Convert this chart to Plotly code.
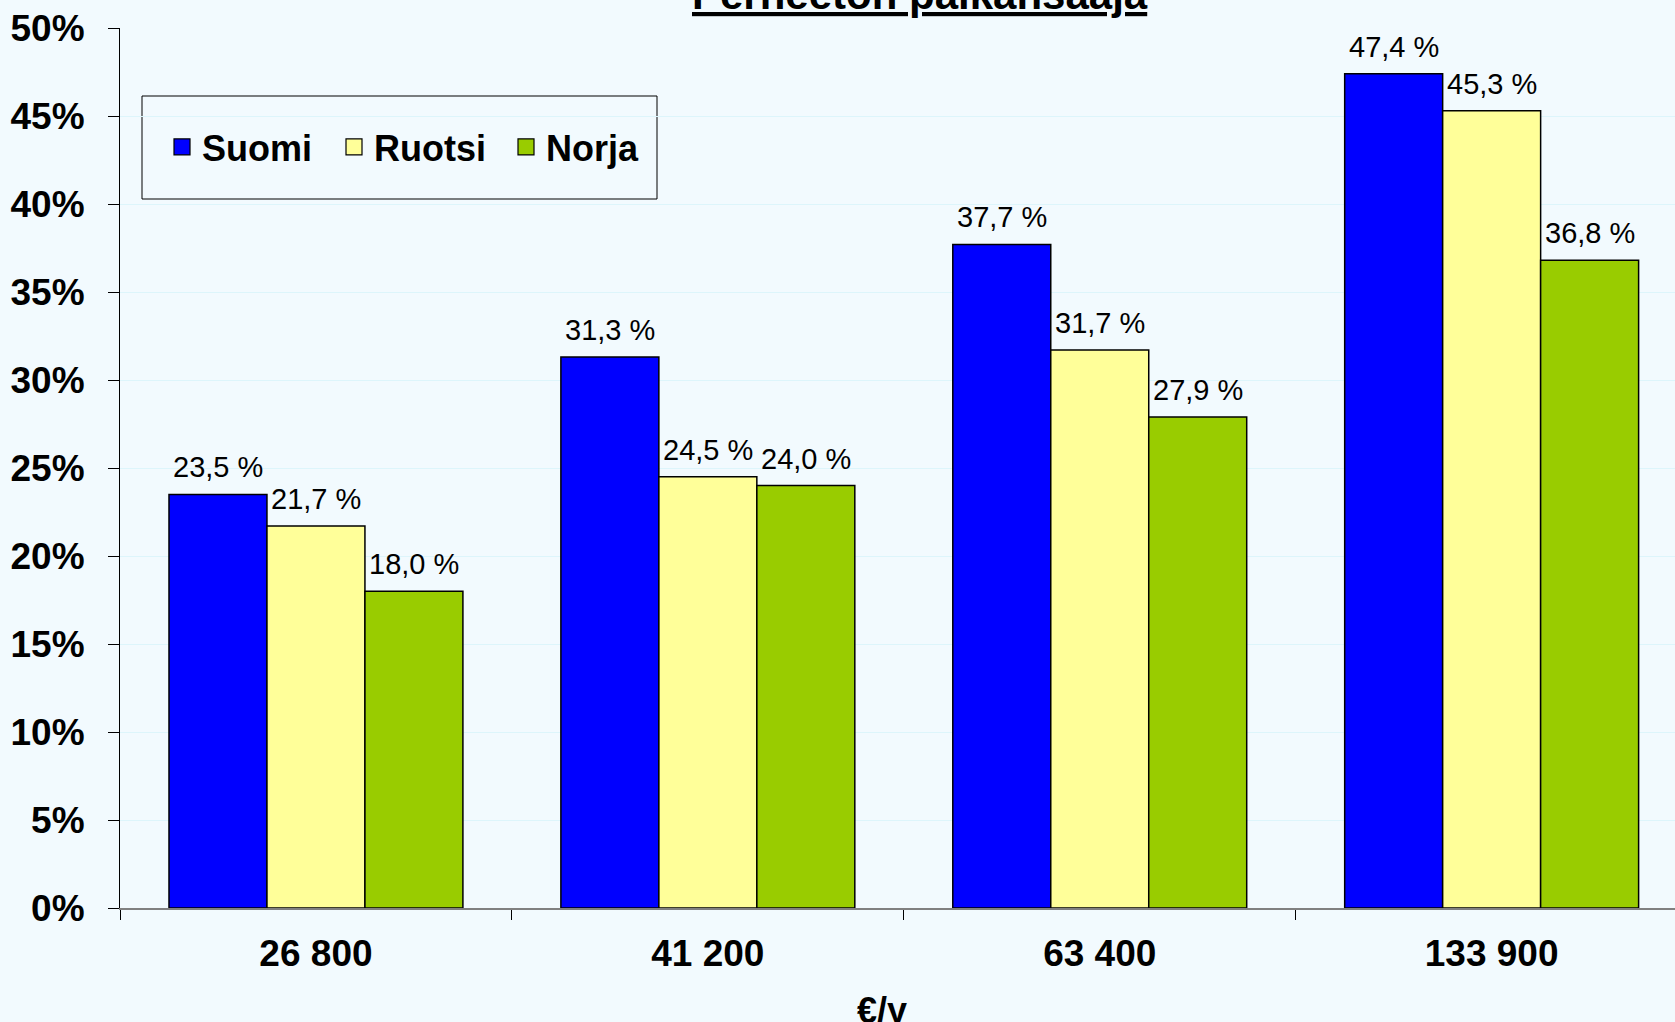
import plotly.graph_objects as go

categories = ["26 800", "41 200", "63 400", "133 900"]
series_names = ["Suomi", "Ruotsi", "Norja"]
suomi = [23.5, 31.3, 37.7, 47.4]
ruotsi = [21.7, 24.5, 31.7, 45.3]
norja = [18.0, 24.0, 27.9, 36.8]
y_ticks = [0, 5, 10, 15, 20, 25, 30, 35, 40, 45, 50]
y_tick_labels = [f"{v}%" for v in y_ticks]
title_text = "Perheeton palkansaaja"
x_title = "€/y"

colors = ["#0000FF", "#FFFF99", "#99CC00"]
series = [suomi, ruotsi, norja]

W, H = 1675, 1022
ML, MR, MT, MB = 120, 0, 28, 114
BG = "#F2FAFE"
FONT = "Liberation Sans, Arial, sans-serif"

fig = go.Figure()
for name, vals, col in zip(series_names, series, colors):
    fig.add_trace(go.Bar(
        x=categories, y=vals, name=name, legendgroup=name, showlegend=False,
        marker=dict(color=col, line=dict(color="black", width=1.5)),
    ))
# legend entries with larger square swatches
for name, col in zip(series_names, colors):
    fig.add_trace(go.Scatter(
        x=[None], y=[None], name=name, legendgroup=name, mode="markers",
        marker=dict(symbol="square", size=20, color=col, line=dict(color="black", width=1.2)),
        hoverinfo="skip",
    ))

bar_w = (1 - 0.25) / len(series)
annotations = []
for k, vals in enumerate(series):
    for i, v in enumerate(vals):
        annotations.append(dict(
            x=i + (k - 1) * bar_w, y=v, xref="x", yref="y",
            text=f"{v:.1f}".replace(".", ",") + " %",
            showarrow=False, yanchor="bottom", xanchor="center", yshift=9,
            font=dict(family=FONT, size=29, color="black"),
        ))

pw = W - ML - MR
ph = H - MT - MB
def px_x(p):
    return (p - ML) / pw
def px_y(p):
    return (H - MB - p) / ph

annotations.append(dict(
    x=px_x(920), y=1, xref="paper", yref="paper",
    text="<b><u>" + title_text + "</u></b>", showarrow=False,
    xanchor="center", yanchor="bottom", yshift=8,
    font=dict(family=FONT, size=42, color="black"),
))
annotations.append(dict(
    x=px_x(882), y=0, xref="paper", yref="paper",
    text="<b>" + x_title + "</b>", showarrow=False,
    xanchor="center", yanchor="top", yshift=-80,
    font=dict(family=FONT, size=36, color="black"),
))

shapes = [dict(
    type="rect", xref="paper", yref="paper",
    x0=px_x(142), x1=px_x(657), y0=px_y(199), y1=px_y(96),
    line=dict(color="black", width=1), fillcolor=BG, layer="below",
)]

fig.update_layout(
    width=W, height=H,
    margin=dict(l=ML, r=MR, t=MT, b=MB),
    paper_bgcolor=BG, plot_bgcolor=BG,
    barmode="group", bargap=0.25, bargroupgap=0,
    showlegend=True,
    legend=dict(
        orientation="h", x=px_x(162), y=px_y(147), xanchor="left", yanchor="middle",
        bgcolor="rgba(0,0,0,0)", borderwidth=0,
        font=dict(family=FONT, size=36, color="black", weight="bold"),
        itemwidth=30, entrywidth=127, entrywidthmode="pixels",
    ),
    annotations=annotations,
    shapes=shapes,
    xaxis=dict(
        type="category", range=[-0.5, 3.5 - (1687.6 - W) / 392],
        tickson="boundaries", ticks="outside", ticklen=10, tickcolor="black",
        showline=True, linecolor="#808080", linewidth=2,
        showgrid=False,
        tickfont=dict(family=FONT, size=37, color="black", weight="bold"),
        ticklabelstandoff=12,
    ),
    yaxis=dict(
        range=[0, 50], tickmode="array", tickvals=y_ticks, ticktext=y_tick_labels,
        ticks="outside", ticklen=11, tickcolor="black",
        showline=True, linecolor="black", linewidth=1,
        showgrid=True, gridcolor="#DDF5FB", gridwidth=1,
        zeroline=False,
        tickfont=dict(family=FONT, size=37, color="black", weight="bold"),
        ticklabelstandoff=16,
    ),
)

fig.write_html(
    "out.html",
    config={"displayModeBar": False},
    post_script="document.body.style.margin='0';document.body.style.overflow='hidden';",
)
